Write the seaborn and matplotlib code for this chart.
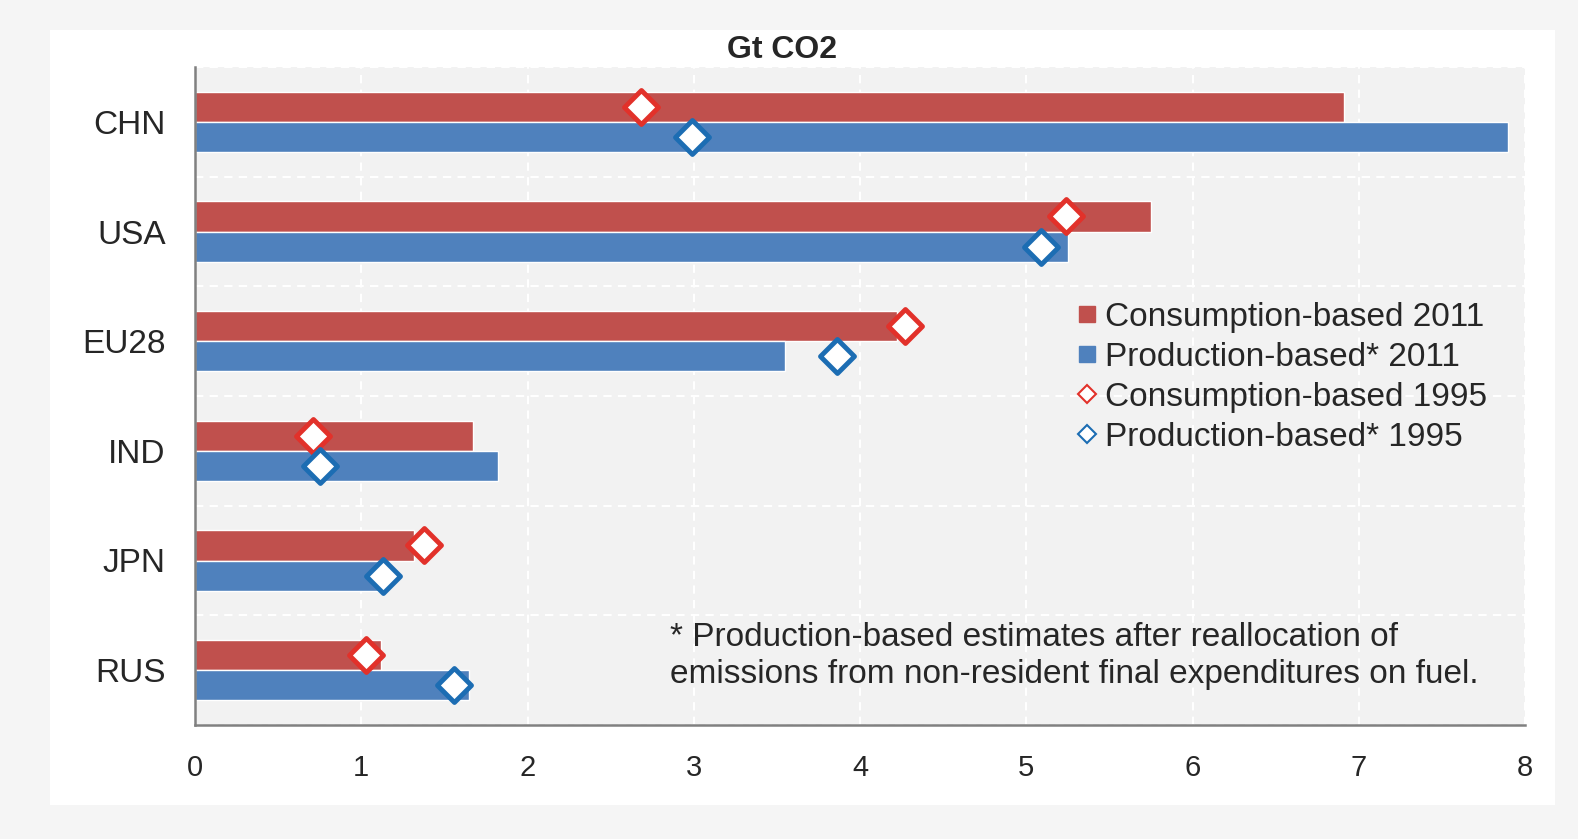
import matplotlib
matplotlib.use("Agg")
import matplotlib.pyplot as plt
import matplotlib.patches as mpatches
from matplotlib.lines import Line2D
import seaborn as sns
import pandas as pd
import numpy as np

countries = ["CHN", "USA", "EU28", "IND", "JPN", "RUS"]
cons_2011 = [6.91, 5.75, 4.22, 1.67, 1.32, 1.12]
prod_2011 = [7.90, 5.25, 3.55, 1.82, 1.14, 1.65]
cons_1995 = [2.68, 5.24, 4.27, 0.71, 1.38, 1.03]
prod_1995 = [2.99, 5.09, 3.86, 0.75, 1.13, 1.56]
series_2011 = ["Consumption-based 2011", "Production-based* 2011"]
series_1995 = ["Consumption-based 1995", "Production-based* 1995"]
x_ticks = [0, 1, 2, 3, 4, 5, 6, 7, 8]

bar_colors = ["#c0504d", "#4f81bd"]
dia_colors = ["#e2312a", "#1c6db3"]

sns.set_style("white")
plt.rcParams["font.family"] = ["Liberation Sans", "DejaVu Sans"]

df = pd.DataFrame({
    "country": countries * 2,
    "value": cons_2011 + prod_2011,
    "series": [series_2011[0]] * len(countries) + [series_2011[1]] * len(countries),
})

fig = plt.figure(figsize=(15.78, 8.39), dpi=100)
fig.patch.set_facecolor("#f5f5f5")
panel = mpatches.Rectangle((50 / 1578, 1 - 805 / 839), (1555 - 50) / 1578, (805 - 30) / 839,
                           transform=fig.transFigure, facecolor="white", edgecolor="none", zorder=-5)
fig.patches.append(panel)

ax = fig.add_axes([195 / 1578, 1 - 725 / 839, (1525 - 195) / 1578, (725 - 67) / 839])
ax.set_zorder(1)
ax.set_facecolor("#f2f2f2")

sns.barplot(data=df, x="value", y="country", hue="series", orient="h",
            palette=bar_colors, width=0.55, saturation=1, ax=ax, legend=False,
            order=countries, hue_order=series_2011, zorder=2)

offs = [-0.1375, 0.1375]
ypos = np.arange(len(countries))
for vals, off, c in zip([cons_1995, prod_1995], offs, dia_colors):
    ax.scatter(vals, ypos + off, marker="D", s=300, facecolor="white",
               edgecolor=c, linewidth=3.5, zorder=4)

ax.set_xlim(0, 8)
ax.set_ylim(5.5, -0.5)
ax.set_xticks(x_ticks)
ax.set_xticklabels([str(t) for t in x_ticks], fontsize=21)
ax.set_yticks(ypos)
ax.set_yticklabels(countries, fontsize=24)
ax.set_yticks(np.arange(-0.5, 5.6, 1.0), minor=True)
ax.tick_params(axis="y", which="major", length=0, pad=21)
ax.tick_params(axis="y", which="minor", direction="in", length=11, color="#808080", width=1.5)
ax.tick_params(axis="x", which="major", direction="in", length=7, color="#808080", width=1.5, pad=21)
ax.set_xlabel("")
ax.set_ylabel("")

ax.grid(False)
ax.grid(True, axis="x", which="major", color="white", linestyle=(0, (4, 3)), linewidth=1.5, zorder=1)
ax.grid(True, axis="y", which="minor", color="white", linestyle=(0, (4, 3)), linewidth=1.5, zorder=1)
ax.set_axisbelow(True)

for s in ["top", "right"]:
    ax.spines[s].set_visible(False)
for s in ["left", "bottom"]:
    ax.spines[s].set_color("#808080")
    ax.spines[s].set_linewidth(1.8)

fig.text(782 / 1578, 1 - 50 / 839, "Gt CO2", fontsize=23, fontweight="bold",
         ha="center", va="center")

handles = [
    Line2D([], [], linestyle="none", marker="s", markersize=11, markerfacecolor=bar_colors[0], markeredgecolor=bar_colors[0]),
    Line2D([], [], linestyle="none", marker="s", markersize=11, markerfacecolor=bar_colors[1], markeredgecolor=bar_colors[1]),
    Line2D([], [], linestyle="none", marker="D", markersize=9, markerfacecolor="white", markeredgecolor=dia_colors[0], markeredgewidth=1.5),
    Line2D([], [], linestyle="none", marker="D", markersize=9, markerfacecolor="white", markeredgecolor=dia_colors[1], markeredgewidth=1.5),
]
leg = fig.legend(handles, series_2011 + series_1995, loc="upper left",
                 bbox_to_anchor=(1077 / 1578, 1 - 302 / 839), frameon=False, fontsize=24,
                 handlelength=0.6, handletextpad=0.25, labelspacing=0.27, borderpad=0, borderaxespad=0)
leg.set_zorder(10)

fig.text(670 / 1578, 1 - 656 / 839,
         "* Production-based estimates after reallocation of\nemissions from non-resident final expenditures on fuel.",
         fontsize=24, ha="left", va="center", linespacing=1.22, zorder=10)

fig.savefig("out.png", dpi=100, facecolor=fig.get_facecolor())
